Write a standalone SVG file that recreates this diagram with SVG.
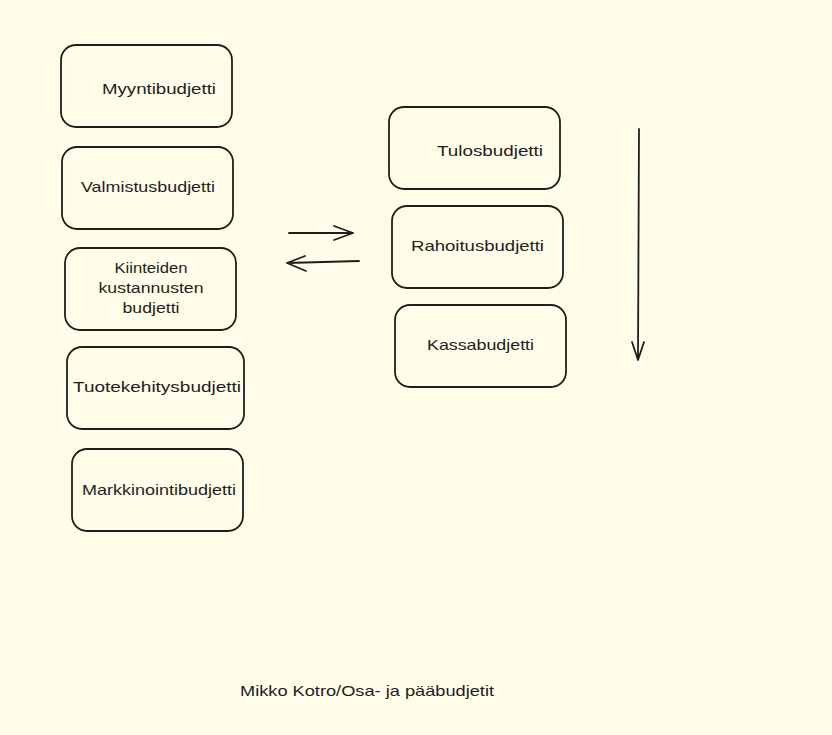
<svg xmlns="http://www.w3.org/2000/svg" width="832" height="735" viewBox="0 0 832 735">
<defs>
<style>
.box{fill:none;stroke:#1e1e1e;stroke-width:1.8;stroke-linejoin:round}
.t{font-family:"Liberation Sans","Noto Sans",sans-serif;font-size:15px;fill:#1e1e1e;text-anchor:middle}
.ln{fill:none;stroke:#1e1e1e;stroke-width:1.8;stroke-linecap:round;stroke-linejoin:round}
</style>
</defs>
<rect x="0" y="0" width="832" height="735" fill="#fffce9"/>
<g id="n-myynti"><rect class="box" x="61" y="45" width="171" height="82" rx="15"/><text class="t" x="159" y="94" textLength="114" lengthAdjust="spacingAndGlyphs">Myyntibudjetti</text></g>
<g id="n-valmistus"><rect class="box" x="62" y="147" width="171" height="82" rx="15"/><text class="t" x="148" y="192" textLength="134" lengthAdjust="spacingAndGlyphs">Valmistusbudjetti</text></g>
<g id="n-kiinteiden"><rect class="box" x="65" y="248" width="171" height="82" rx="15"/><text class="t" x="151" y="273" textLength="73" lengthAdjust="spacingAndGlyphs">Kiinteiden</text><text class="t" x="151" y="293" textLength="105" lengthAdjust="spacingAndGlyphs">kustannusten</text><text class="t" x="151" y="313" textLength="57" lengthAdjust="spacingAndGlyphs">budjetti</text></g>
<g id="n-tuotekehitys"><rect class="box" x="67" y="347" width="177" height="82" rx="15"/><text class="t" x="157" y="392" textLength="168" lengthAdjust="spacingAndGlyphs">Tuotekehitysbudjetti</text></g>
<g id="n-markkinointi"><rect class="box" x="72" y="449" width="171" height="82" rx="15"/><text class="t" x="159" y="495" textLength="154" lengthAdjust="spacingAndGlyphs">Markkinointibudjetti</text></g>
<g id="n-tulos"><rect class="box" x="389" y="107" width="171" height="82" rx="15"/><text class="t" x="490" y="156" textLength="106" lengthAdjust="spacingAndGlyphs">Tulosbudjetti</text></g>
<g id="n-rahoitus"><rect class="box" x="392" y="206" width="171" height="82" rx="15"/><text class="t" x="477.5" y="251" textLength="133" lengthAdjust="spacingAndGlyphs">Rahoitusbudjetti</text></g>
<g id="n-kassa"><rect class="box" x="395" y="305" width="171" height="82" rx="15"/><text class="t" x="480.5" y="350" textLength="107" lengthAdjust="spacingAndGlyphs">Kassabudjetti</text></g>
<g id="connectors">
<path class="ln" d="M289 233 L353 233 M353 233 L334 226 M353 233 L334 240"/>
<path class="ln" d="M359 261 L287 263 M287 263 L305 256 M287 263 L306 271"/>
<path class="ln" d="M639 129 L638 360 M638 360 L632 342 M638 360 L644 342"/>
</g>
<g id="footer"><text class="t" x="367" y="696" textLength="254" lengthAdjust="spacingAndGlyphs">Mikko Kotro/Osa- ja pääbudjetit</text></g>
</svg>
